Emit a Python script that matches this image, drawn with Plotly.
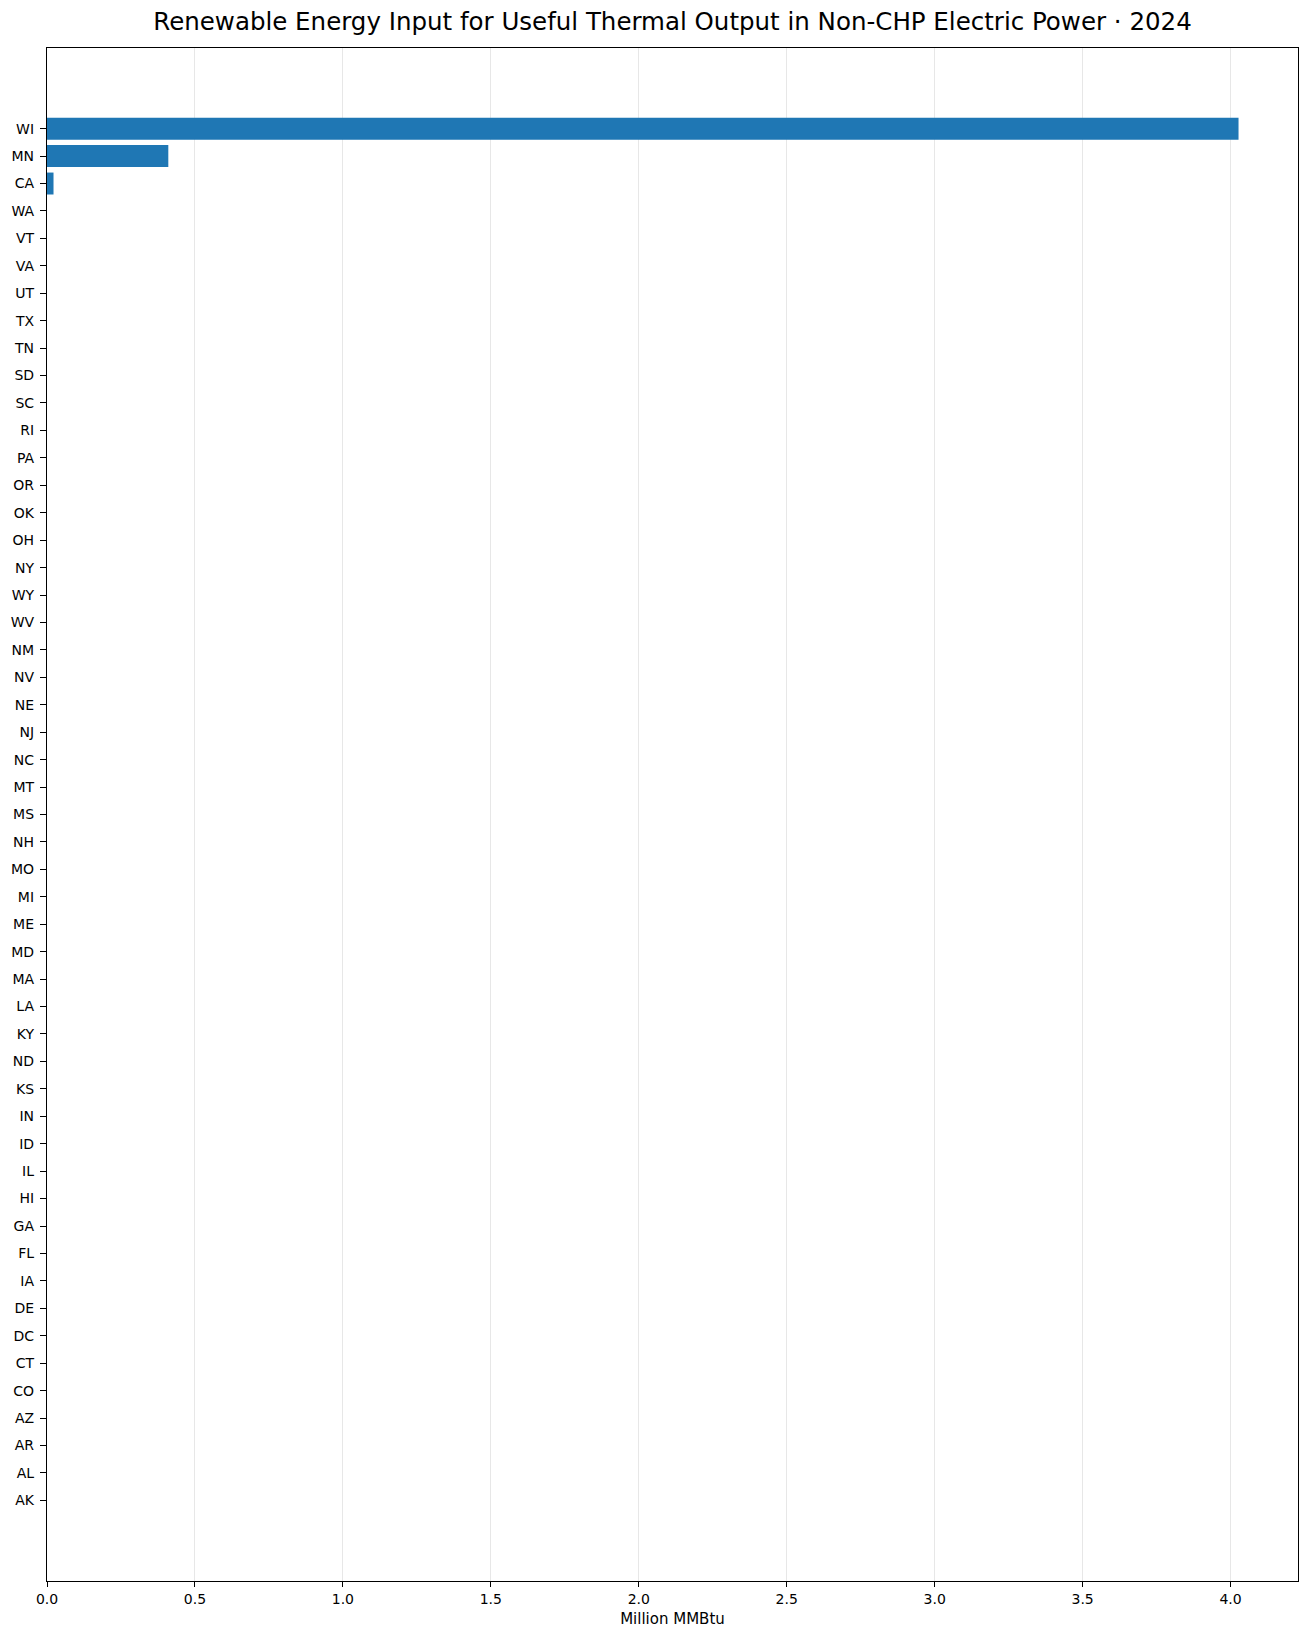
import plotly.graph_objects as go

states = ["AK", "AL", "AR", "AZ", "CO", "CT", "DC", "DE", "IA", "FL", "GA", "HI", "IL", "ID",
          "IN", "KS", "ND", "KY", "LA", "MA", "MD", "ME", "MI", "MO", "NH", "MS", "MT", "NC",
          "NJ", "NE", "NV", "NM", "WV", "WY", "NY", "OH", "OK", "OR", "PA", "RI", "SC", "SD",
          "TN", "TX", "UT", "VA", "VT", "WA", "CA", "MN", "WI"]
values = [0.0] * 48 + [0.022, 0.41, 4.027]

x_ticks = [0.0, 0.5, 1.0, 1.5, 2.0, 2.5, 3.0, 3.5, 4.0]
x_tick_labels = ["0.0", "0.5", "1.0", "1.5", "2.0", "2.5", "3.0", "3.5", "4.0"]

title_text = "Renewable Energy Input for Useful Thermal Output in Non-CHP Electric Power · 2024"
x_title = "Million MMBtu"

fig = go.Figure(go.Bar(
    x=values, y=states, orientation="h", width=0.8,
    marker=dict(color="#1f77b4", line=dict(width=0)),
))

W, H = 1292, 1620
font = "DejaVu Sans, sans-serif"
fig.update_layout(
    width=W, height=H,
    margin=dict(l=39, r=1.6, t=40, b=H - 40 - 1533),
    paper_bgcolor="white", plot_bgcolor="white",
    font=dict(family=font, size=14, color="black"),
    title=dict(text=title_text, xref="paper", x=0.5, xanchor="center",
               yref="container", y=1 - 13.5 / H, yanchor="middle",
               font=dict(family=font, size=24.5, color="black")),
    showlegend=False,
    bargap=0.2,
)
fig.update_xaxes(
    range=[0, 4.228], tickvals=x_ticks, ticktext=x_tick_labels,
    showgrid=True, gridcolor="rgba(176,176,176,0.3)", gridwidth=1,
    showline=True, linecolor="black", linewidth=1.3, mirror=True,
    ticks="outside", ticklen=5, tickwidth=1, tickcolor="black",
    tickfont=dict(size=14), zeroline=False, automargin=False,
    ticklabelstandoff=0,
    title=dict(text=x_title, font=dict(size=15), standoff=9),
)
fig.update_yaxes(
    type="category", categoryorder="array", categoryarray=states,
    range=[-2.94, 52.94],
    showgrid=False,
    showline=True, linecolor="black", linewidth=1.3, mirror=True,
    ticks="outside", ticklen=6, tickwidth=1, tickcolor="black",
    tickfont=dict(size=14), zeroline=False, automargin=False,
    ticklabelstandoff=3,
)

fig.write_html("out.html")
